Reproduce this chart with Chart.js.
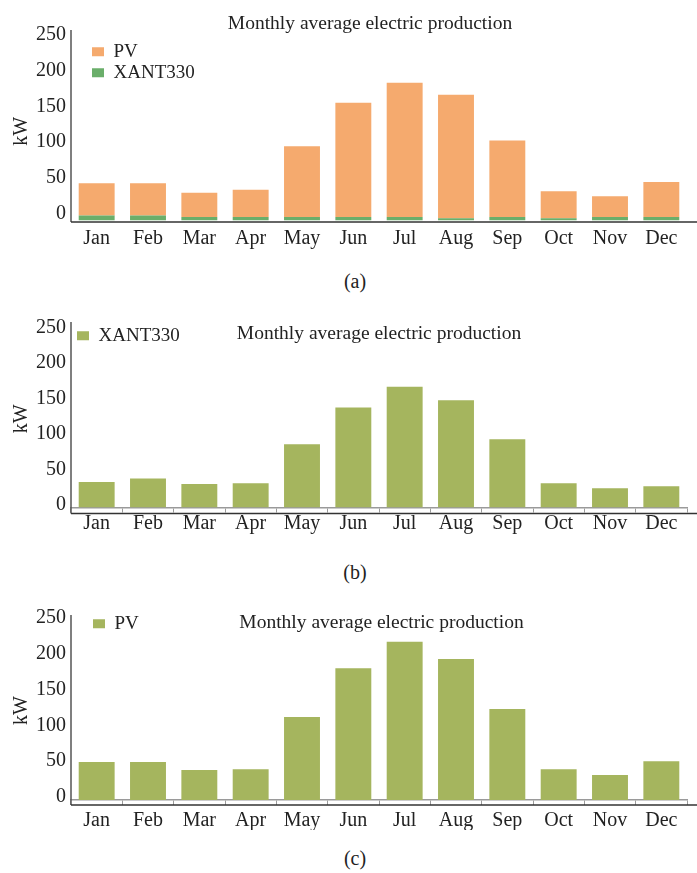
<!DOCTYPE html>
<html>
<head>
<meta charset="utf-8">
<script src="https://cdn.jsdelivr.net/npm/chart.js@4.4.1/dist/chart.umd.min.js"></script>
<style>
    body { margin: 0; background: #fff; }
    #page { position: relative; width: 697px; height: 873px; overflow: hidden; }
    .panel { position: absolute; left: 0; width: 697px; }
    .caption { position: absolute; left: 0; width: 710px; text-align: center; font: 20px "Liberation Serif", serif; color: #222; line-height: 22px; }
</style>
</head>
<body>
<div id="page">
    <div class="panel" style="top:0;height:249px"><canvas id="chartA"></canvas></div>
    <div class="caption" style="top:270px">(a)</div>
    <div class="panel" style="top:292px;height:246px"><canvas id="chartB"></canvas></div>
    <div class="caption" style="top:561px">(b)</div>
    <div class="panel" style="top:584px;height:246px"><canvas id="chartC"></canvas></div>
    <div class="caption" style="top:847px">(c)</div>
</div>
<script>
const months = ["Jan", "Feb", "Mar", "Apr", "May", "Jun", "Jul", "Aug", "Sep", "Oct", "Nov", "Dec"];
const yTicks = [0, 50, 100, 150, 200, 250];

// (a) stacked
const stackedXant = [7, 7, 5, 5, 5, 5, 5, 3, 5, 3, 5, 5];
const stackedPv = [45, 45, 34, 38, 99, 160, 188, 173, 107, 38, 29, 49];
// (b) wind only
const xantValues = [36, 41, 33, 34, 89, 141, 170, 151, 96, 34, 27, 30];
// (c) PV only
const pvValues = [53, 53, 42, 43, 116, 184, 221, 197, 127, 43, 35, 54];

const titleText = "Monthly average electric production";
const orange = "#F5AA6E";
const green = "#6AAE6A";
const olive = "#A5B55E";

Chart.defaults.font.family = '"Liberation Serif", serif';
Chart.defaults.font.size = 20;
Chart.defaults.color = "#222";

// y axis line (drawn a bit above the plot) and the dark base line running to the edge
const axisFrame = {
    id: "axisFrame",
    afterDraw(chart, args, opts) {
        const {ctx, chartArea} = chart;
        const lineY = chartArea.bottom + opts.gap;
        ctx.save();
        ctx.lineWidth = 1.5;
        ctx.strokeStyle = opts.yColor;
        ctx.beginPath();
        ctx.moveTo(chartArea.left, chartArea.top - opts.extend);
        ctx.lineTo(chartArea.left, lineY);
        ctx.stroke();
        ctx.strokeStyle = opts.xColor;
        ctx.beginPath();
        ctx.moveTo(chartArea.left, lineY);
        ctx.lineTo(chart.width, lineY);
        ctx.stroke();
        ctx.restore();
    }
};

// put the legend inside the plot near its top-left corner, nudge the title sideways
const boxShift = {
    id: "boxShift",
    afterLayout(chart, args, opts) {
        const legend = chart.legend;
        if (legend) {
            const h = legend.height;
            const w = legend.width;
            legend.left = chart.chartArea.left + opts.dx;
            legend.top = chart.chartArea.top + opts.dy;
            legend.right = legend.left + w;
            legend.bottom = legend.top + h;
        }
        const title = chart.titleBlock;
        if (title) {
            title.left += opts.titleDx;
            title.right += opts.titleDx;
        }
    }
};

function makeChart(id, datasets, cfg) {
    return new Chart(document.getElementById(id), {
        type: "bar",
        data: {
            labels: months,
            datasets: datasets
        },
        options: {
            responsive: true,
            maintainAspectRatio: false,
            animation: false,
            layout: {
                padding: {left: 0, right: 10, top: 0, bottom: 0}
            },
            datasets: {
                bar: {
                    categoryPercentage: 0.7,
                    barPercentage: 1.0,
                    borderWidth: 0
                }
            },
            plugins: {
                title: {
                    display: true,
                    text: titleText,
                    fullSize: false,
                    color: "#222",
                    font: {size: 19.5, weight: "normal"},
                    padding: cfg.titlePadding
                },
                legend: {
                    position: "chartArea",
                    align: "start",
                    reverse: cfg.reverseLegend,
                    labels: {
                        boxWidth: 12,
                        boxHeight: 9,
                        padding: 2,
                        color: "#222",
                        font: {size: 19}
                    }
                },
                tooltip: {enabled: false},
                boxShift: cfg.boxShift,
                axisFrame: cfg.axisFrame
            },
            scales: {
                x: {
                    stacked: cfg.stacked,
                    grid: cfg.xGrid,
                    border: cfg.xBorder,
                    ticks: {
                        padding: cfg.xPadding,
                        maxRotation: 0,
                        autoSkip: false,
                        color: "#222"
                    },
                    afterFit: scale => { scale.height = cfg.xHeight; }
                },
                y: {
                    stacked: cfg.stacked,
                    min: 0,
                    max: 250,
                    grid: {display: false, drawTicks: false},
                    border: {display: false},
                    afterBuildTicks: scale => {
                        scale.ticks = yTicks.map(v => ({value: v}));
                    },
                    ticks: {
                        padding: 5,
                        labelOffset: cfg.yLabelOffset,
                        color: "#222"
                    },
                    title: {
                        display: true,
                        text: "kW",
                        color: "#222",
                        font: {size: 20},
                        padding: {top: 10, bottom: 0}
                    },
                    afterFit: scale => { scale.width = 71; }
                }
            }
        },
        plugins: [axisFrame, boxShift]
    });
}

const tickGrid = {
    display: true,
    drawOnChartArea: false,
    drawTicks: true,
    tickLength: 5,
    color: "#9a9a9a",
    lineWidth: 1
};

makeChart("chartA", [
    {label: "XANT330", data: stackedXant, backgroundColor: green},
    {label: "PV", data: stackedPv, backgroundColor: orange}
], {
    stacked: true,
    reverseLegend: true,
    titlePadding: {top: 12.3, bottom: 6.3},
    boxShift: {dx: 19, dy: -1.7, titleDx: -9},
    axisFrame: {gap: 1.5, extend: 12, xColor: "#333", yColor: "#555"},
    xGrid: {display: false, drawTicks: false},
    xBorder: {display: false},
    xPadding: 6.5,
    xHeight: 28.5,
    yLabelOffset: -7
});

makeChart("chartB", [
    {label: "XANT330", data: xantValues, backgroundColor: olive}
], {
    stacked: false,
    reverseLegend: false,
    titlePadding: {top: 30.3, bottom: -15.7},
    boxShift: {dx: 4, dy: -5.7, titleDx: 0},
    axisFrame: {gap: 6, extend: 8, xColor: "#333", yColor: "#555"},
    xGrid: tickGrid,
    xBorder: {display: true, color: "#9a9a9a", width: 1.5},
    xPadding: -1,
    xHeight: 30.5,
    yLabelOffset: -2.5
});

makeChart("chartC", [
    {label: "PV", data: pvValues, backgroundColor: olive}
], {
    stacked: false,
    reverseLegend: false,
    titlePadding: {top: 27.3, bottom: -13.7},
    boxShift: {dx: 20, dy: -8.7, titleDx: 2.5},
    axisFrame: {gap: 5, extend: 6, xColor: "#333", yColor: "#555"},
    xGrid: tickGrid,
    xBorder: {display: true, color: "#9a9a9a", width: 1.5},
    xPadding: 4.2,
    xHeight: 30,
    yLabelOffset: -3
});
</script>
</body>
</html>
